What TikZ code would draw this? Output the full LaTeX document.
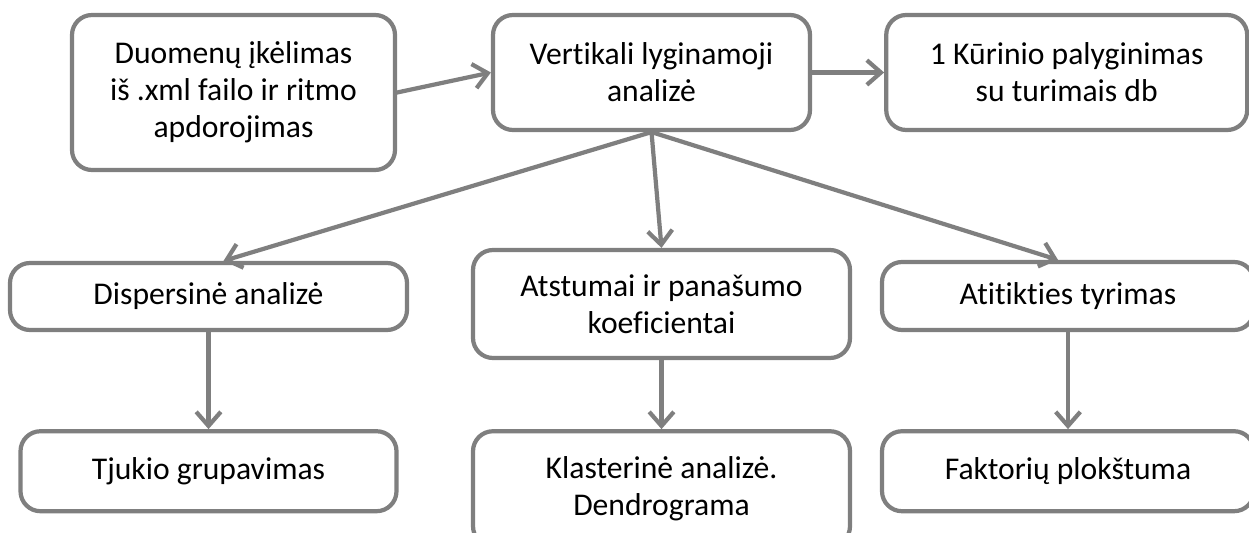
\documentclass[tikz,border=0pt]{standalone}
\usepackage{fontspec}
\setmainfont{Carlito}[Ligatures=NoCommon]
\usepackage{tikz}
\usetikzlibrary{positioning, calc, arrows.meta}
\definecolor{boxGray}{RGB}{127,127,127}

\begin{document}
\begin{tikzpicture}[
    node distance=1.94cm and 1.44cm,
    box/.style={rectangle, rounded corners=0.4cm, draw=boxGray, line width=2.4pt,
                fill=white, align=center, inner sep=2pt,
                font=\fontsize{18}{21}\selectfont},
    arrow/.style={-{Straight Barb[length=8pt, width=14pt]}, draw=boxGray,
                  line width=2.4pt, line cap=round},
  ]
    \useasboundingbox (0,0) rectangle (24.98,-10.66);

    % top row
    \node[box, minimum width=6.46cm, minimum height=3.1cm] at (4.67,-1.85) (LOAD)
        {Duomenų įkėlimas\\iš .xml failo ir ritmo\\apdorojimas};
    \node[box, minimum width=6.34cm, minimum height=2.3cm] at (13.03,-1.45) (VERT)
        {Vertikali lyginamoji\\analizė};
    \node[box, minimum width=7.22cm, minimum height=2.3cm, right=of VERT] (COMP)
        {1 Kūrinio palyginimas\\su turimais db};

    % analysis row
    \node[box, minimum width=7.94cm, minimum height=1.34cm] at (4.17,-5.93) (DISP)
        {Dispersinė analizė};
    \node[box, minimum width=7.54cm, minimum height=2.16cm] at (13.23,-6.08) (DIST)
        {Atstumai ir panašumo\\koeficientai};
    \node[box, minimum width=7.44cm, minimum height=1.36cm] at (21.36,-5.92) (CORR)
        {Atitikties tyrimas};

    % result row
    \node[box, minimum width=7.52cm, minimum height=1.6cm, below=of DISP] (GROUP)
        {Tjukio grupavimas};
    \node[box, minimum width=7.54cm, minimum height=2.3cm, below=1.38cm of DIST] (CLUST)
        {Klasterinė analizė.\\Dendrograma};
    \node[box, minimum width=7.44cm, minimum height=1.6cm, below=of CORR] (FACT)
        {Faktorių plokštuma};

    \draw[arrow] (LOAD.east) -- (VERT.west);
    \draw[arrow] (VERT) -- (COMP);
    \draw[arrow] (VERT.south) -- ($(DISP.north)+(0.3,0)$);
    \draw[arrow] (VERT.south) -- (DIST.north);
    \draw[arrow] (VERT.south) -- ($(CORR.north)+(-0.2,0)$);
    \draw[arrow] (DISP) -- (GROUP);
    \draw[arrow] (DIST) -- (CLUST);
    \draw[arrow] (CORR) -- (FACT);
  \end{tikzpicture}
\end{document}
